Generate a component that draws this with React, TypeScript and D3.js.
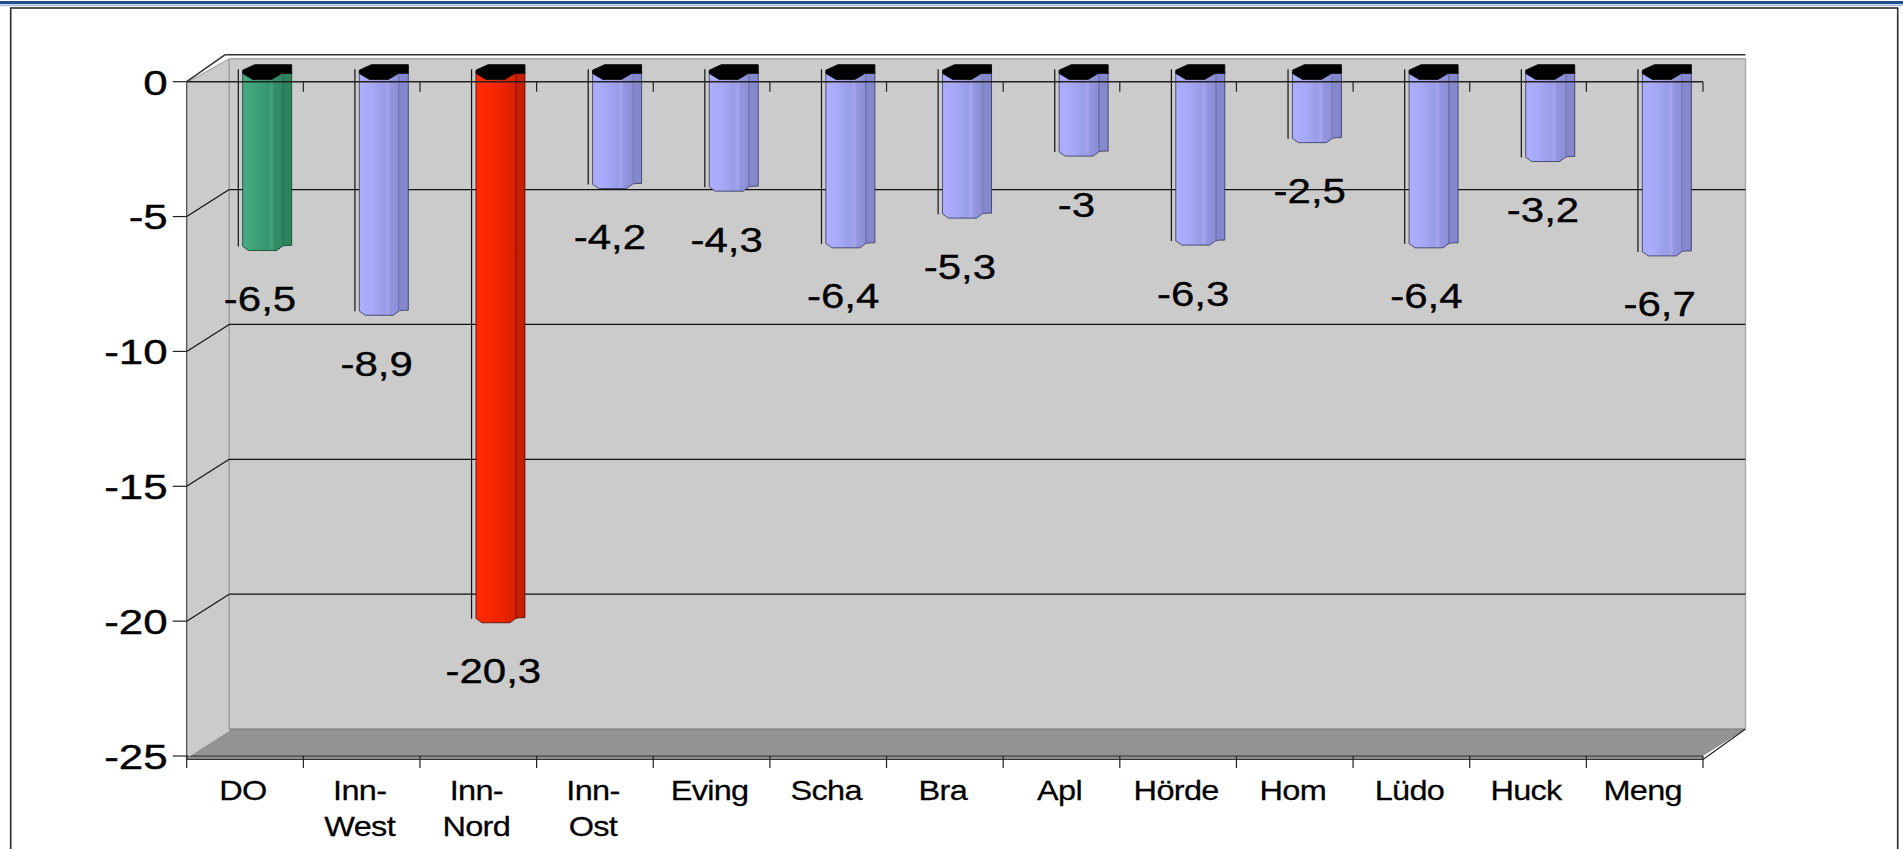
import React, { useEffect } from "react";
import * as d3 from "d3";

const categories = ["DO", "Inn-West", "Inn-Nord", "Inn-Ost", "Eving", "Scha", "Bra", "Apl", "Hörde", "Hom", "Lüdo", "Huck", "Meng"];
const values = [-6.5, -8.9, -20.3, -4.2, -4.3, -6.4, -5.3, -3, -6.3, -2.5, -6.4, -3.2, -6.7];
const barKind = ["green", "blue", "red", "blue", "blue", "blue", "blue", "blue", "blue", "blue", "blue", "blue", "blue"];
const yTicks = [0, -5, -10, -15, -20, -25];

const W = 1903;
const H = 849;
const FONT = "'Liberation Sans', Arial, Helvetica, sans-serif";

const x = d3.scaleBand<string>().domain(categories).range([186.7, 1703]).paddingInner(0).paddingOuter(0);
const y = d3.scaleLinear().domain([-25, 0]).range([756, 81.7]);
const DX = 42.5;
const DY = -27;

const palettes: Record<string, { front: [string, string][]; side: string; sideDark: string; edge: string }> = {
  blue: {
    front: [["0%", "#adaffe"], ["30%", "#a7aaf8"], ["62%", "#999ce6"], ["72%", "#a3a6ee"], ["78%", "#9396df"], ["100%", "#8a8ed3"]],
    side: "#8588cc",
    sideDark: "#7d80c3",
    edge: "#30325a",
  },
  green: {
    front: [["0%", "#46ac82"], ["30%", "#3ea379"], ["65%", "#359670"], ["73%", "#46a37f"], ["78%", "#338e68"], ["100%", "#2f8862"]],
    side: "#2d835e",
    sideDark: "#287853",
    edge: "#123a28",
  },
  red: {
    front: [["0%", "#ff2b00"], ["35%", "#fb2800"], ["70%", "#ea2400"], ["100%", "#d82100"]],
    side: "#c81e00",
    sideDark: "#b01a00",
    edge: "#4a0a00",
  },
};

function fmt(v: number) {
  return String(v).replace(".", ",");
}

function Bar({ cat, v, kind }: { cat: string; v: number; kind: string }) {
  const x0 = x(cat) as number;
  const bw = x.bandwidth();
  const bx = x0 + bw * 0.48;
  const yZ = y(0);
  const yB = y(v) - 6.5;
  const F = 40;
  const Wd = 49;
  const pal = palettes[kind];
  const front = [
    [bx, yZ - 10],
    [bx + F, yZ - 10],
    [bx + F, yB - 4.5],
    [bx + F - 6, yB],
    [bx + 6, yB],
    [bx, yB - 4.2],
  ];
  const side = [
    [bx + F, yZ - 10],
    [bx + Wd, yZ - 10],
    [bx + Wd, yB - 5],
    [bx + F + 4, yB - 5],
    [bx + F, yB - 4.5],
  ];
  const cap = [
    [bx, yZ - 11.5],
    [bx + 12, yZ - 17],
    [bx + Wd, yZ - 17],
    [bx + Wd, yZ - 8.3],
    [bx + F - 1, yZ - 8.3],
    [bx + F - 11, yZ - 2.3],
    [bx + 10, yZ - 2.3],
    [bx, yZ - 8.3],
  ];
  const pts = (a: number[][]) => a.map((p) => p.join(",")).join(" ");
  return (
    <g>
      <line x1={bx - 4.4} x2={bx - 4.4} y1={yZ - 12.5} y2={yB - 4} stroke="#111" strokeWidth={1.2} />
      <polygon points={pts(front)} fill={`url(#grad-${kind})`} stroke={pal.edge} strokeWidth={0.8} />
      <polygon points={pts(side)} fill={pal.side} stroke={pal.edge} strokeWidth={0.8} />
      <line x1={bx + F} x2={bx + F} y1={yZ - 8} y2={yB - 4.5} stroke={pal.sideDark} strokeWidth={1.4} />
      <polygon points={pts(cap)} fill="#000" stroke="#111" strokeWidth={1} />
    </g>
  );
}

export default function App() {
  useEffect(() => {
    document.body.style.margin = "0";
    document.body.style.overflow = "hidden";
  }, []);

  const xL = x.range()[0];
  const xR = x.range()[1];
  const yTop = y(0);
  const yBot = y(-25);
  const boundaries = d3.range(categories.length + 1).map((i) => xL + i * x.bandwidth());

  return (
    <svg width={W} height={H} style={{ position: "absolute", left: 0, top: 0, background: "#fff" }} fontFamily={FONT}>
      <defs>
        {Object.keys(palettes).map((k) => (
          <linearGradient key={k} id={`grad-${k}`} x1="0" x2="1" y1="0" y2="0">
            {palettes[k].front.map(([o, c]) => (
              <stop key={o} offset={o} stopColor={c} />
            ))}
          </linearGradient>
        ))}
      </defs>

      {/* top blue rule and frame */}
      <rect x={0} y={1} width={W} height={3.2} fill="#1f4f8f" />
      <line x1={0} x2={W} y1={5.6} y2={5.6} stroke="#9db3d4" strokeWidth={1} />
      <rect x={10.7} y={8} width={1887} height={H + 20} fill="#fff" stroke="#2a2a2a" strokeWidth={1.6} />

      {/* walls */}
      <rect x={xL + DX} y={yTop + DY + 4} width={xR - xL} height={yBot - yTop - 4} fill="#cbcbcb" />
      <polygon
        points={`${xL},${yTop} ${xL + DX},${yTop + DY + 4} ${xL + DX},${yBot + DY} ${xL},${yBot}`}
        fill="#cbcbcb"
      />
      {/* floor */}
      <polygon
        points={`${xL},${yBot} ${xL + DX},${yBot + DY} ${xR + DX},${yBot + DY} ${xR},${yBot}`}
        fill="#939393"
      />
      <rect x={xL} y={yBot} width={xR - xL} height={3.5} fill="#8c8c8c" />
      <line x1={xL + DX} x2={xR + DX} y1={yBot + DY} y2={yBot + DY} stroke="#777" strokeWidth={1.2} />
      <line x1={xL} x2={xR} y1={yBot} y2={yBot} stroke="#333" strokeWidth={1.2} />
      <line x1={xL} x2={xR} y1={yBot + 3.5} y2={yBot + 3.5} stroke="#333" strokeWidth={1.2} />
      <line x1={xR} x2={xR + DX} y1={yBot + 3.5} y2={yBot + DY} stroke="#222" strokeWidth={1.2} />
      <line x1={xL + 2} x2={xL + DX} y1={yBot} y2={yBot + DY + 1} stroke="#e0e0e0" strokeWidth={1.2} />

      {/* wall edges */}
      <line x1={xL + DX} x2={xL + DX} y1={yTop + DY + 4} y2={yBot + DY} stroke="#999" strokeWidth={1.4} />
      <line x1={xR + DX} x2={xR + DX} y1={yTop + DY + 4} y2={yBot + DY} stroke="#a8a8a8" strokeWidth={1.4} />
      <line x1={xL + DX} x2={xR + DX} y1={yTop + DY + 4} y2={yTop + DY + 4} stroke="#aaa" strokeWidth={1.4} />
      <line x1={xL + 2} x2={xL + DX} y1={yTop} y2={yTop + DY + 4} stroke="#aaa" strokeWidth={1.2} />
      <line x1={xL + DX - 4} x2={xR + DX} y1={yTop + DY} y2={yTop + DY} stroke="#333" strokeWidth={1.6} />
      <line x1={xL} x2={xL + DX - 4} y1={yTop} y2={yTop + DY} stroke="#333" strokeWidth={1.6} />

      {/* gridlines */}
      {yTicks
        .filter((t) => t !== 0 && t !== -25)
        .map((t) => (
          <g key={t}>
            <line x1={xL + DX} x2={xR + DX} y1={y(t) + DY} y2={y(t) + DY} stroke="#111" strokeWidth={1.2} />
            <line x1={xL} x2={xL + DX} y1={y(t)} y2={y(t) + DY} stroke="#111" strokeWidth={1.2} />
          </g>
        ))}

      {/* bars */}
      {categories.map((c, i) => (
        <Bar key={c} cat={c} v={values[i]} kind={barKind[i]} />
      ))}

      {/* value axis */}
      <line x1={xL} x2={xL} y1={yTop} y2={yBot + 3.5} stroke="#444" strokeWidth={1.2} />
      {yTicks.map((t) => (
        <g key={t}>
          <line x1={xL - 14} x2={xL} y1={y(t)} y2={y(t)} stroke="#222" strokeWidth={1.2} />
          <text
            transform={`translate(${xL - 19},${y(t) + 12.8}) scale(1.22,1)`}
            textAnchor="end"
            fontSize={36}
            fill="#000"
            stroke="#000"
            strokeWidth={0.4}
          >
            {t}
          </text>
        </g>
      ))}

      {/* zero line with ticks */}
      <line x1={xL} x2={xR} y1={yTop} y2={yTop} stroke="#222" strokeWidth={1.6} />
      {boundaries.slice(1).map((bx, i) => (
        <line key={i} x1={bx} x2={bx} y1={yTop} y2={yTop + 10} stroke="#222" strokeWidth={1.2} />
      ))}

      {/* bottom category ticks */}
      {boundaries.map((bx, i) => (
        <line key={i} x1={bx} x2={bx} y1={yBot} y2={yBot + 12} stroke="#222" strokeWidth={1.2} />
      ))}

      {/* category labels */}
      {categories.map((c) => {
        const cx = (x(c) as number) + x.bandwidth() / 2 - 2;
        const parts = c.includes("-") ? [c.slice(0, c.indexOf("-") + 1), c.slice(c.indexOf("-") + 1)] : [c];
        return (
          <text
            key={c}
            transform={`translate(${cx},800) scale(1.14,1)`}
            textAnchor="middle"
            fontSize={28.5}
            letterSpacing={-0.6}
            fill="#000"
            stroke="#000"
            strokeWidth={0.25}
          >
            {parts.map((p, j) => (
              <tspan key={j} x={0} y={j * 35.7}>
                {p}
              </tspan>
            ))}
          </text>
        );
      })}

      {/* value labels */}
      {categories.map((c, i) => (
        <text
          key={c}
          transform={`translate(${(x(c) as number) + x.bandwidth() / 2 + 15},${y(values[i]) + 54}) scale(1.2,1)`}
          textAnchor="middle"
          fontSize={35}
          fill="#000"
          stroke="#000"
          strokeWidth={0.35}
        >
          {fmt(values[i])}
        </text>
      ))}
    </svg>
  );
}
